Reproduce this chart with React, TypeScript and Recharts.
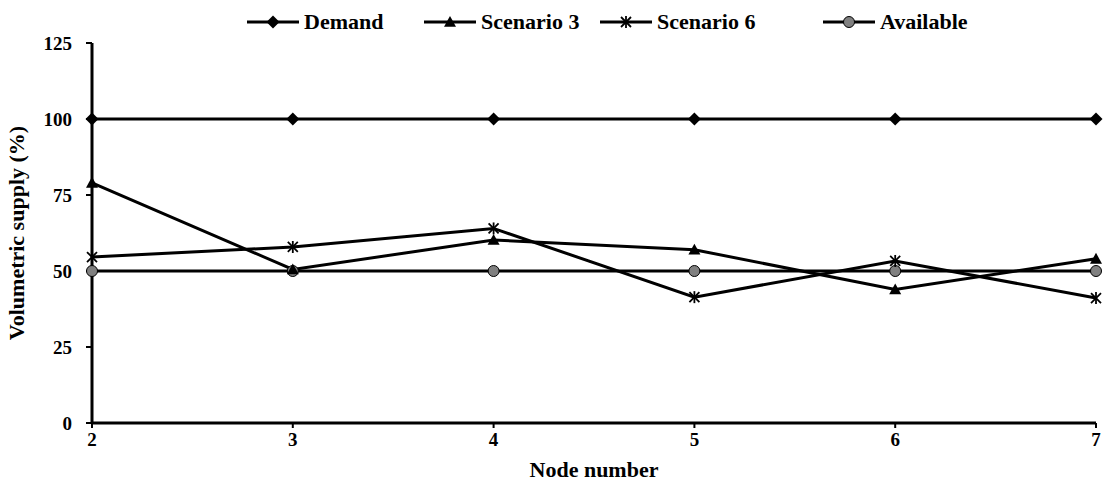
import React from 'react';
import { LineChart, Line, XAxis, YAxis, Legend } from 'recharts';

const nodes = [2, 3, 4, 5, 6, 7];
const demand = [100, 100, 100, 100, 100, 100];
const scenario3 = [79, 50.5, 60.2, 57, 43.9, 54];
const scenario6 = [54.6, 57.9, 64, 41.4, 53.3, 41.1];
const available = [50, 50, 50, 50, 50, 50];
const yTicks = [0, 25, 50, 75, 100, 125];

const data = nodes.map((n, i) => ({
  node: n,
  demand: demand[i],
  s3: scenario3[i],
  s6: scenario6[i],
  avail: available[i],
}));

const FONT = '"Liberation Serif", "Times New Roman", serif';

const Diamond = (props: any) => {
  const { cx, cy } = props;
  const r = 6.5;
  return <path d={`M${cx},${cy - r}L${cx + r},${cy}L${cx},${cy + r}L${cx - r},${cy}Z`} fill="#000" />;
};

const Triangle = (props: any) => {
  const { cx, cy } = props;
  const r = 6;
  return <path d={`M${cx},${cy - r}L${cx + r},${cy + r * 0.8}L${cx - r},${cy + r * 0.8}Z`} fill="#000" />;
};

const Star = (props: any) => {
  const { cx, cy } = props;
  const r = 5;
  return (
    <g stroke="#000" strokeWidth={1.8}>
      <line x1={cx - r} y1={cy - r} x2={cx + r} y2={cy + r} />
      <line x1={cx - r} y1={cy + r} x2={cx + r} y2={cy - r} />
      <line x1={cx} y1={cy - r - 1} x2={cx} y2={cy + r + 1} />
    </g>
  );
};

const Circle = (props: any) => {
  const { cx, cy } = props;
  return <circle cx={cx} cy={cy} r={5.5} fill="#808080" stroke="#000" strokeWidth={1} />;
};

const legendItems = [
  { name: 'Demand', x: 247, Marker: Diamond },
  { name: 'Scenario 3', x: 424, Marker: Triangle },
  { name: 'Scenario 6', x: 600, Marker: Star },
  { name: 'Available', x: 823, Marker: Circle },
];

const LegendContent = () => (
  <svg width={1105} height={40} style={{ display: 'block' }}>
    {legendItems.map(({ name, x, Marker }) => (
      <g key={name}>
        <line x1={x} y1={22} x2={x + 52} y2={22} stroke="#000" strokeWidth={3} />
        <Marker cx={x + 26} cy={22} />
        <text x={x + 57} y={29} fontFamily={FONT} fontWeight="bold" fontSize={22} fill="#000">
          {name}
        </text>
      </g>
    ))}
  </svg>
);

const tickStyle = { fontFamily: FONT, fontWeight: 'bold', fontSize: 19, fill: '#000' };

export default function App() {
  return (
    <div style={{ position: 'absolute', left: 0, top: 0, background: '#fff' }}>
      <LineChart width={1105} height={481} data={data} margin={{ top: 3, right: 9, bottom: 0, left: 0 }}>
        <Legend verticalAlign="top" align="left" content={<LegendContent />} wrapperStyle={{ left: 0, top: 0, width: 1105, height: 40 }} />
        <XAxis
          dataKey="node"
          type="number"
          domain={[2, 7]}
          ticks={nodes}
          height={58}
          axisLine={{ stroke: '#000', strokeWidth: 3 }}
          tickLine={{ stroke: '#000', strokeWidth: 2 }}
          tickSize={5}
          tickMargin={5}
          tick={tickStyle}
          label={(p: any) => (
            <text x={594} y={477} textAnchor="middle" fontFamily={FONT} fontWeight="bold" fontSize={22} fill="#000">
              Node number
            </text>
          )}
        />
        <YAxis
          type="number"
          domain={[0, 125]}
          ticks={yTicks}
          width={92}
          axisLine={{ stroke: '#000', strokeWidth: 3 }}
          tickLine={{ stroke: '#000', strokeWidth: 2 }}
          tickSize={6}
          tickMargin={14}
          tick={tickStyle}
          label={(p: any) => (
            <text
              x={0}
              y={0}
              transform="translate(24,233) rotate(-90)"
              textAnchor="middle"
              fontFamily={FONT}
              fontWeight="bold"
              fontSize={22}
              fill="#000"
            >
              Volumetric supply (%)
            </text>
          )}
        />
        <Line dataKey="demand" stroke="#000" strokeWidth={3} dot={<Diamond />} activeDot={false} isAnimationActive={false} />
        <Line dataKey="avail" stroke="#000" strokeWidth={3} dot={<Circle />} activeDot={false} isAnimationActive={false} />
        <Line dataKey="s3" stroke="#000" strokeWidth={3} dot={<Triangle />} activeDot={false} isAnimationActive={false} />
        <Line dataKey="s6" stroke="#000" strokeWidth={3} dot={<Star />} activeDot={false} isAnimationActive={false} />
      </LineChart>
    </div>
  );
}
